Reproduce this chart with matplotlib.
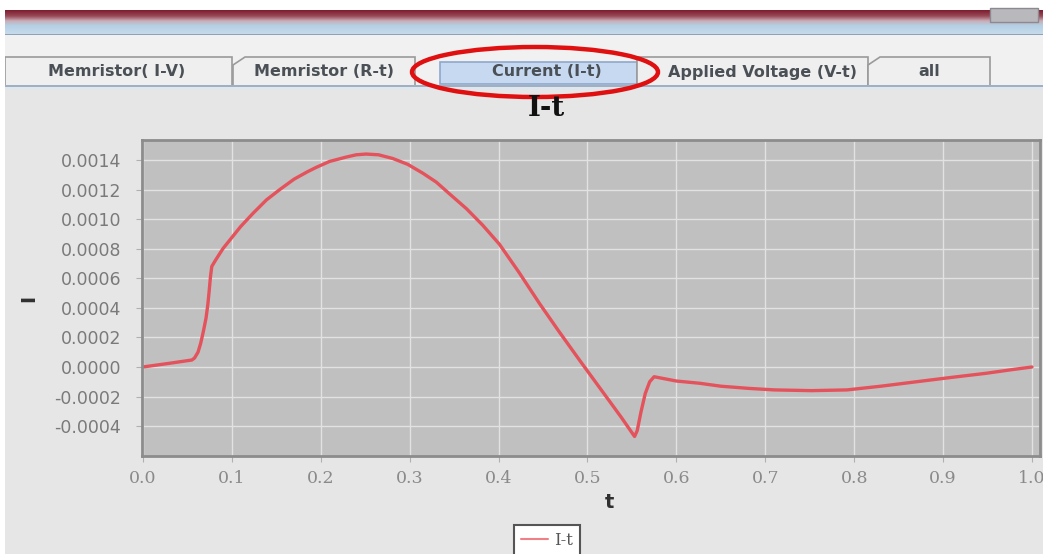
import numpy as np
import matplotlib
matplotlib.use("Agg")
import matplotlib.pyplot as plt
from matplotlib.patches import Rectangle, Ellipse, Polygon
from matplotlib.colors import LinearSegmentedColormap

# ---- data ----
t_vals = [0.000, 0.030, 0.055, 0.058, 0.062, 0.065, 0.068, 0.071, 0.073, 0.0745,
          0.0760, 0.0775, 0.082, 0.090, 0.098, 0.110, 0.124, 0.139, 0.154, 0.170,
          0.185, 0.195, 0.210, 0.229, 0.240, 0.251, 0.265, 0.281, 0.298, 0.315,
          0.330, 0.345, 0.364, 0.382, 0.401, 0.423, 0.446, 0.468, 0.491, 0.521,
          0.538, 0.553, 0.556, 0.560, 0.565, 0.570, 0.575, 0.600, 0.626, 0.650,
          0.682, 0.710, 0.752, 0.792, 0.830, 0.870, 0.910, 0.948, 0.975, 1.000]
I_vals = [0.0, 0.000025, 0.000047, 0.000060, 0.000100, 0.000160, 0.000240, 0.000330, 0.000420, 0.000510,
          0.000610, 0.000680, 0.000725, 0.000800, 0.000860, 0.000950, 0.001040, 0.001130, 0.001200, 0.001270,
          0.001320, 0.001350, 0.001390, 0.001420, 0.001435, 0.001440, 0.001435, 0.001410, 0.001370, 0.001310,
          0.001250, 0.001170, 0.001070, 0.000960, 0.000830, 0.000640, 0.000430, 0.000240, 0.000047, -0.000200,
          -0.000340, -0.000470, -0.000430, -0.000310, -0.000180, -0.000100, -0.000066, -0.000095, -0.000110, -0.000130,
          -0.000145, -0.000155, -0.000160, -0.000155, -0.000130, -0.000100, -0.000070, -0.000043, -0.000020, 0.0]
x_ticks = [0.0, 0.1, 0.2, 0.3, 0.4, 0.5, 0.6, 0.7, 0.8, 0.9, 1.0]
x_tick_labels = ["0.0", "0.1", "0.2", "0.3", "0.4", "0.5", "0.6", "0.7", "0.8", "0.9", "1.0"]
y_ticks = [-0.0004, -0.0002, 0.0, 0.0002, 0.0004, 0.0006, 0.0008, 0.0010, 0.0012, 0.0014]
y_tick_labels = ["-0.0004", "-0.0002", "0.0000", "0.0002", "0.0004", "0.0006",
                 "0.0008", "0.0010", "0.0012", "0.0014"]
tab_labels = ["Memristor( I-V)", "Memristor (R-t)", "Current (I-t)", "Applied Voltage (V-t)", "all"]
series_name = "I-t"
title = "I-t"

W, H = 1043, 554
fig = plt.figure(figsize=(W / 100, H / 100), dpi=100, facecolor="#e6e6e6")

# ---- window chrome (pixel coordinate background axes) ----
bg = fig.add_axes([0, 0, 1, 1], zorder=0)
bg.set_xlim(0, W)
bg.set_ylim(H, 0)
bg.axis("off")

bg.add_patch(Rectangle((0, 0), W, 10, color="white", lw=0))
grad = np.linspace(0, 1, 64)[:, None]
cmap = LinearSegmentedColormap.from_list(
    "bar", [(0, "#7c1e2e"), (0.25, "#9a4a58"), (0.45, "#c9aeb6"), (0.65, "#b4cfe4"), (1.0, "#c6dcec")])
bg.imshow(grad, cmap=cmap, aspect="auto", extent=[5, W, 34, 10], zorder=1)
bg.add_patch(Rectangle((5, 33.5), W, 1.5, color="#8ea4b6", lw=0, zorder=2))
bg.add_patch(Rectangle((990, 8), 48, 14, facecolor="#b9b9bd", edgecolor="#8a8a90", lw=1, zorder=2))
bg.add_patch(Rectangle((5, 35), W, 51, color="#f1f1f1", lw=0, zorder=1))
bg.add_patch(Rectangle((5, 85), W, 1.5, color="#9fb0c2", lw=0, zorder=3))
bg.add_patch(Rectangle((5, 86.5), W, 3, color="#dfe6ee", lw=0, zorder=2))
bg.add_patch(Rectangle((0, 0), 5, H, color="white", lw=0, zorder=4))

tab_edges = [(5, 232), (233, 415), (440, 637), (637, 868), (868, 990)]
slanted = [False, True, False, False, True]
text_shift = [-2, 0, 8, 10, 0]
for (x0, x1), lab, sl, dx in zip(tab_edges, tab_labels, slanted, text_shift):
    if lab == "Current (I-t)":
        bg.add_patch(Rectangle((x0, 62), x1 - x0, 22, facecolor="#c6d9f1",
                               edgecolor="#8ea8cc", lw=1.2, zorder=3))
    else:
        if sl:
            pts = [(x0, 85), (x0, 65), (x0 + 12, 57), (x1, 57), (x1, 85)]
        else:
            pts = [(x0, 85), (x0, 57), (x1, 57), (x1, 85)]
        bg.add_patch(Polygon(pts, closed=False, facecolor="#efefef",
                             edgecolor="#9a9a9a", lw=1.2, zorder=3))
    bg.text((x0 + x1) / 2 + dx, 72, lab,
            ha="center", va="center", fontsize=11.5, fontweight="bold",
            color="#4a5055", family="DejaVu Sans", zorder=5)

bg.add_patch(Ellipse((535, 72), 246, 50, fill=False, edgecolor="#e01010", lw=3.2, zorder=6))

# ---- chart ----
L, R, T, B = 142, 1040, 140, 456
ax = fig.add_axes([L / W, 1 - B / H, (R - L) / W, (B - T) / H], zorder=2)
ax.set_facecolor("#c0c0c0")
ax.plot(t_vals, I_vals, color="#e4525c", lw=2.4, label=series_name,
        solid_joinstyle="round", solid_capstyle="round")
ax.set_xlim(-0.001, 1.009)
ax.set_ylim(-0.000602, 0.001535)
ax.set_xticks(x_ticks)
ax.set_xticklabels(x_tick_labels, family="DejaVu Serif", fontsize=12.5, color="#8a8a8a")
ax.set_yticks(y_ticks)
ax.set_yticklabels(y_tick_labels, family="DejaVu Sans", fontsize=12.5, color="#7a7a7a")
ax.tick_params(axis="both", length=4, width=0.8, color="#b0b0b0")
ax.tick_params(axis="y", pad=11)
ax.tick_params(axis="x", pad=6)
ax.grid(True, color="#e2e2e2", lw=1.0)
ax.set_axisbelow(True)
for s in ax.spines.values():
    s.set_color("#8c8c8c")
    s.set_linewidth(2)

ax.set_xlabel("t", fontsize=14, fontweight="bold", color="#303030")
ax.xaxis.set_label_coords((609 - L) / (R - L), (B - 493) / (B - T))
ax.set_ylabel("I", fontsize=14, fontweight="bold", color="#303030")
ax.yaxis.set_label_coords((38 - L) / (R - L), 0.5)

fig.text(546 / W, 1 - 109 / H, title, ha="center", va="center", fontsize=20,
         fontweight="bold", family="DejaVu Serif", color="#111111")

leg = fig.legend(loc="upper center", bbox_to_anchor=(547 / W, 1 - 517 / H),
                 fancybox=False, framealpha=1, edgecolor="#555555",
                 prop={"family": "DejaVu Serif", "size": 12},
                 handlelength=1.6, borderpad=0.4, handletextpad=0.4)
leg.get_frame().set_linewidth(1.5)
for txt in leg.get_texts():
    txt.set_color("#555555")
for ln in leg.get_lines():
    ln.set_linewidth(1.5)
    ln.set_color("#f08088")

fig.savefig("out.png", dpi=100, facecolor=fig.get_facecolor())
